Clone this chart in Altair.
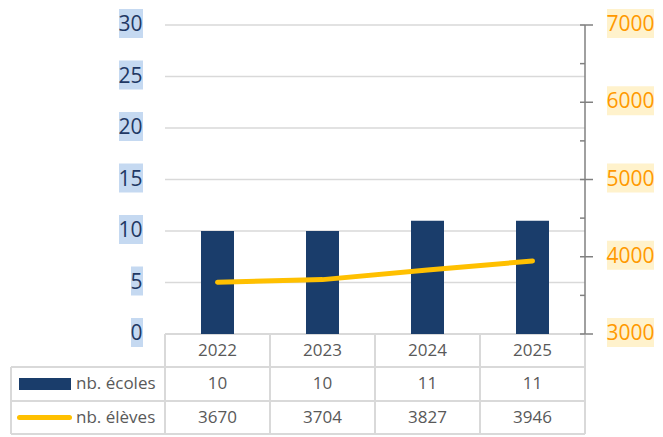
import altair as alt
import pandas as pd

years = ["2022", "2023", "2024", "2025"]
ecoles = [10, 10, 11, 11]
eleves = [3670, 3704, 3827, 3946]
left_ticks = [0, 5, 10, 15, 20, 25, 30]
right_ticks = [3000, 4000, 5000, 6000, 7000]
right_minor = [3500, 4500, 5500, 6500]
series_labels = ["nb. écoles", "nb. élèves"]

W, H = 420, 309
FONT = "Open Sans"
NAVY = "#1A3D6B"
GOLD = "#FFC000"
GRID = "#D9D9D9"
TXT = "#595959"

df = pd.DataFrame({"year": years, "ecoles": ecoles, "eleves": eleves})
lt = pd.DataFrame({"v": left_ticks})
rt = pd.DataFrame({"v": right_ticks})
rm = pd.DataFrame({"v": right_minor})
one = pd.DataFrame({"a": [0]})

xs = alt.Scale(domain=years, paddingInner=0, paddingOuter=0)
def X(bp=0.5):
    return alt.X("year:N", sort=years, axis=None, scale=xs, bandPosition=bp)

yl = alt.Scale(domain=[0, 30])
yr = alt.Scale(domain=[3000, 7000])

grid = alt.Chart(lt).mark_rule(color=GRID, strokeWidth=1.5).encode(
    y=alt.Y("v:Q", scale=yl, axis=None), x=alt.value(0), x2=alt.value(W))

bars = alt.Chart(df).mark_bar(size=33, color=NAVY).encode(
    x=alt.X("year:N", sort=years, axis=None, scale=xs),
    y=alt.Y("ecoles:Q", scale=yl, axis=None))

line = alt.Chart(df).mark_line(color=GOLD, strokeWidth=5, strokeCap="round").encode(
    x=X(0.5), y=alt.Y("eleves:Q", scale=yr, axis=None))

# left axis labels with highlight
lbg2 = alt.Chart(lt).transform_filter("datum.v >= 10").mark_rect(
    color="#C5D9F1", yOffset=-16, y2Offset=13).encode(
    y=alt.Y("v:Q", scale=yl, axis=None), y2="v:Q",
    x=alt.value(-46), x2=alt.value(-22))
lbg1 = alt.Chart(lt).transform_filter("datum.v < 10").mark_rect(
    color="#C5D9F1", yOffset=-16, y2Offset=13).encode(
    y=alt.Y("v:Q", scale=yl, axis=None), y2="v:Q",
    x=alt.value(-34), x2=alt.value(-22))
ltxt = alt.Chart(lt).mark_text(align="right", baseline="middle", font=FONT,
                                fontSize=21, color="#1F3864", dy=0).encode(
    y=alt.Y("v:Q", scale=yl, axis=None), x=alt.value(-22.5), text="v:Q")

# right axis
raxis = alt.Chart(one).mark_rule(color="#808080", strokeWidth=1.5).encode(
    x=alt.value(W), y=alt.value(0), y2=alt.value(H))
rmaj = alt.Chart(rt).mark_rule(color="#808080", strokeWidth=1.5).encode(
    y=alt.Y("v:Q", scale=yr, axis=None), x=alt.value(W - 5), x2=alt.value(W + 8))
rmin = alt.Chart(rm).mark_rule(color="#808080", strokeWidth=1.5).encode(
    y=alt.Y("v:Q", scale=yr, axis=None), x=alt.value(W - 5), x2=alt.value(W))
rbg = alt.Chart(rt).mark_rect(color="#FFF2CC", yOffset=-16, y2Offset=13).encode(
    y=alt.Y("v:Q", scale=yr, axis=None), y2="v:Q",
    x=alt.value(442), x2=alt.value(489))
rtxt = alt.Chart(rt).mark_text(align="center", baseline="middle", font=FONT,
                                fontSize=21, color="#FF9900", dy=0).encode(
    y=alt.Y("v:Q", scale=yr, axis=None), x=alt.value(465.5), text="v:Q")

# data table
R0, R1, R2, R3 = H, H + 33, H + 67, H + 100
LEFT = -154
tline = alt.Chart(one).mark_rule(color=GRID, strokeWidth=2).encode(
    x=alt.value(0), x2=alt.value(W), y=alt.value(R0))
hl = [alt.Chart(one).mark_rule(color=GRID, strokeWidth=2).encode(
    x=alt.value(LEFT), x2=alt.value(W), y=alt.value(r)) for r in (R1, R2, R3)]
vband = alt.Chart(df).mark_rule(color=GRID, strokeWidth=2).encode(
    x=X(0), y=alt.value(R0), y2=alt.value(R3))
vright = alt.Chart(one).mark_rule(color=GRID, strokeWidth=2).encode(
    x=alt.value(W), y=alt.value(R0 + 1), y2=alt.value(R3))
vleft = alt.Chart(one).mark_rule(color=GRID, strokeWidth=2).encode(
    x=alt.value(LEFT), y=alt.value(R1), y2=alt.value(R3))

def row_text(field, ymid):
    return alt.Chart(df).mark_text(font=FONT, fontSize=17, color=TXT,
                                   baseline="middle").encode(
        x=X(0.5), y=alt.value(ymid), text=field)

t_years = row_text("year:N", (R0 + R1) / 2)
t_ecoles = row_text("ecoles:Q", (R1 + R2) / 2)
t_eleves = row_text("eleves:Q", (R2 + R3) / 2)

sw_bar = alt.Chart(one).mark_rect(color=NAVY).encode(
    x=alt.value(-146), x2=alt.value(-94),
    y=alt.value((R1 + R2) / 2 - 6), y2=alt.value((R1 + R2) / 2 + 6))
sw_line = alt.Chart(one).mark_rule(color=GOLD, strokeWidth=5, strokeCap="round").encode(
    x=alt.value(-145.5), x2=alt.value(-95.5), y=alt.value((R2 + R3) / 2))
lg1 = alt.Chart(one).mark_text(font=FONT, fontSize=17, color=TXT, align="left",
                               baseline="middle").encode(
    x=alt.value(-89), y=alt.value((R1 + R2) / 2), text=alt.value(series_labels[0]))
lg2 = alt.Chart(one).mark_text(font=FONT, fontSize=17, color=TXT, align="left",
                               baseline="middle").encode(
    x=alt.value(-89), y=alt.value((R2 + R3) / 2), text=alt.value(series_labels[1]))

chart = alt.layer(
    grid, tline, *hl, vband, vright, vleft,
    bars, line,
    lbg2, lbg1, ltxt,
    raxis, rmaj, rmin, rbg, rtxt,
    t_years, t_ecoles, t_eleves,
    sw_bar, sw_line, lg1, lg2,
).resolve_scale(y="independent").properties(
    width=W, height=H,
    autosize=alt.AutoSizeParams(type="none"),
    padding={"left": 157, "top": 17, "right": 70, "bottom": 102},
    background="white",
).configure_view(stroke=None)

chart.save("out.html", embed_options={"renderer": "svg", "actions": False})
